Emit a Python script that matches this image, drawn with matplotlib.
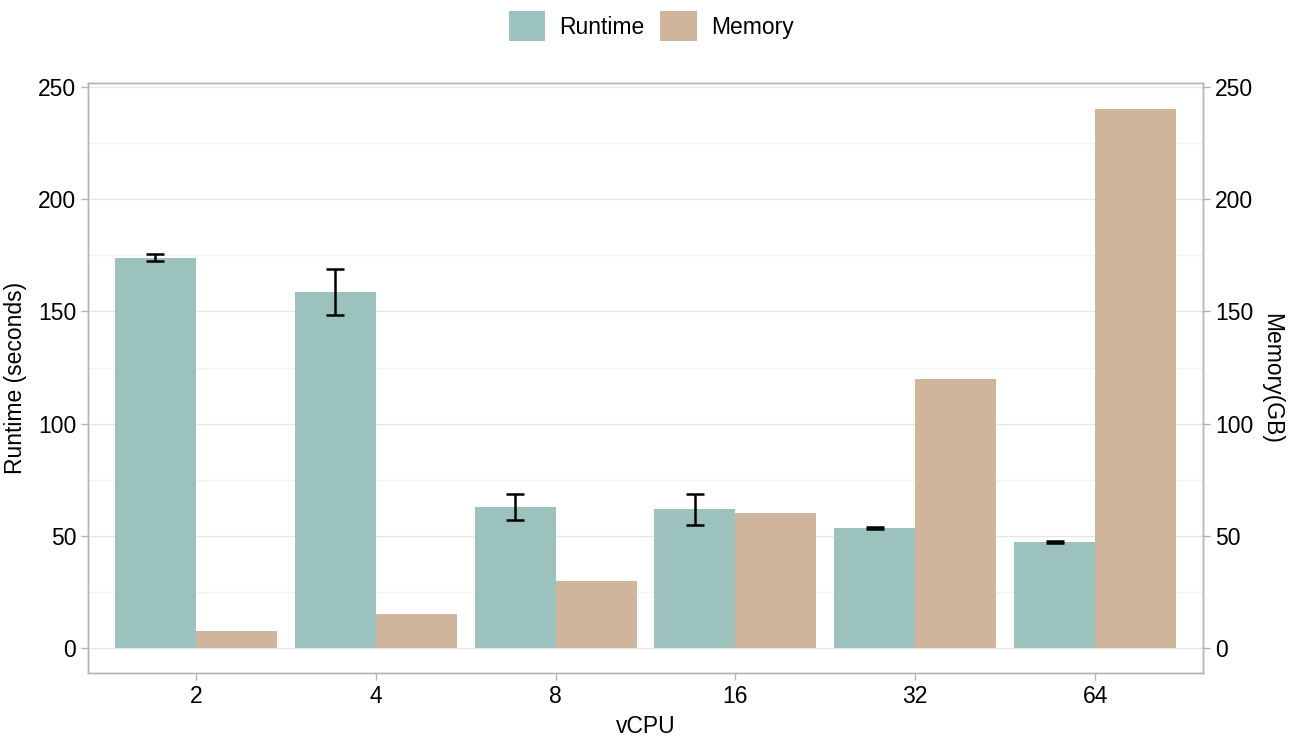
import numpy as np
import matplotlib.pyplot as plt
from matplotlib.patches import Patch

# ------------------------------------------------------------------ #
#  Data                                      #
# ------------------------------------------------------------------ #

vcpus = ["2", "4", "8", "16", "32", "64"]
runtime = [174.0, 158.6, 62.8, 61.9, 53.5, 47.2]
runtime_err = [1.5, 10.3, 5.8, 6.9, 0.3, 0.5]
memory = [7.5, 15, 30, 60, 120, 240]

RUNTIME_COLOR = "#9BC2BC"
MEMORY_COLOR = "#CEB59B"
GRID_MAJOR = "#E6E6E6"
GRID_MINOR = "#F3F3F3"
FRAME = "#B3B3B3"
FS = 16.5

plt.rcParams["font.family"] = ["Liberation Sans", "DejaVu Sans"]

W, H = 1296, 736
fig = plt.figure(figsize=(W / 100, H / 100), dpi=100)
left, right, top, bottom = 88, 1203, 83, 673
ax = fig.add_axes([left / W, 1 - bottom / H, (right - left) / W, (bottom - top) / H])
ax2 = ax.twinx()

x = np.arange(len(vcpus))
bw = 0.45

ax.bar(x - bw / 2, runtime, width=bw, color=RUNTIME_COLOR, zorder=2)
ax.errorbar(x - bw / 2, runtime, yerr=runtime_err, fmt="none", ecolor="black",
            elinewidth=1.8, capsize=6.5, capthick=1.8, zorder=3)
ax2.bar(x + bw / 2, memory, width=bw, color=MEMORY_COLOR, zorder=2)

ylim = (-11.1, 251.8)
for a in (ax, ax2):
    a.set_ylim(*ylim)
    a.set_yticks([0, 50, 100, 150, 200, 250])
    a.tick_params(axis="y", labelsize=FS, color=FRAME, length=5, width=1)
    for s in a.spines.values():
        s.set_color(FRAME)
        s.set_linewidth(1)

ax.set_xlim(-0.6, len(vcpus) - 0.4)
ax.set_xticks(x)
ax.set_xticklabels(vcpus)
ax.tick_params(axis="x", labelsize=FS, color=FRAME, length=5, width=1)

ax.set_yticks([25, 75, 125, 175, 225], minor=True)
ax.tick_params(axis="y", which="minor", length=0)
ax2.tick_params(axis="y", which="minor", length=0)
ax.grid(True, axis="y", which="major", color=GRID_MAJOR, linewidth=1, zorder=0)
ax.grid(True, axis="y", which="minor", color=GRID_MINOR, linewidth=1, zorder=0)
ax.set_axisbelow(True)

# memory bars live on ax2; keep the twin transparent so the grid shows
ax2.patch.set_visible(False)

ax.set_xlabel("vCPU", fontsize=FS, labelpad=5)
ax.set_ylabel("Runtime (seconds)", fontsize=FS, labelpad=8)
ax2.set_ylabel("Memory(GB)", fontsize=FS, rotation=-90, labelpad=22)

handles = [Patch(facecolor=RUNTIME_COLOR, label="Runtime"),
           Patch(facecolor=MEMORY_COLOR, label="Memory")]
fig.legend(handles=handles, loc="center", bbox_to_anchor=(651 / W, 1 - 26 / H),
           ncol=2, frameon=False, fontsize=FS, handlelength=1.6, handleheight=1.6,
           handletextpad=0.6, columnspacing=0.7)

fig.savefig("out.png", dpi=100, facecolor="white")
